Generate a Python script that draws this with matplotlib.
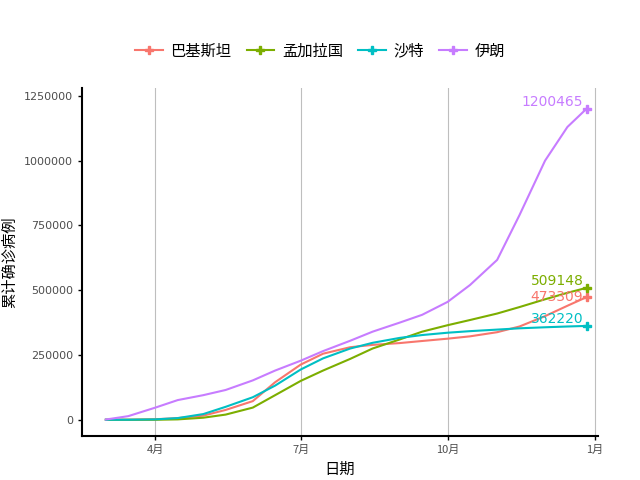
import matplotlib
matplotlib.use("Agg")
import matplotlib.pyplot as plt
from matplotlib import font_manager as fm
import datetime as dt

cjk = [f.name for f in fm.fontManager.ttflist if "CJK" in f.name]
fam = "Noto Sans CJK SC" if "Noto Sans CJK SC" in cjk else (cjk[0] if cjk else "DejaVu Sans")
plt.rcParams['font.family'] = [fam, "DejaVu Sans"]

countries = ["巴基斯坦", "孟加拉国", "沙特", "伊朗"]
colors = ["#F8766D", "#7CAE00", "#00BFC4", "#C77CFF"]

dates_str = ["2020-03-01", "2020-03-15", "2020-04-01", "2020-04-15", "2020-05-01", "2020-05-15",
             "2020-06-01", "2020-06-15", "2020-07-01", "2020-07-15", "2020-08-01", "2020-08-15",
             "2020-09-01", "2020-09-15", "2020-10-01", "2020-10-15", "2020-11-01", "2020-11-15",
             "2020-12-01", "2020-12-15", "2020-12-27"]
pakistan = [0, 50, 2000, 6500, 16000, 38000, 72000, 145000, 213000, 255000, 280000, 289000,
            296000, 304000, 313000, 322000, 338000, 360000, 400000, 440000, 473309]
bangladesh = [0, 0, 50, 1500, 8000, 20000, 47000, 95000, 150000, 190000, 235000, 275000,
              310000, 340000, 365000, 385000, 410000, 435000, 465000, 490000, 509148]
saudi = [0, 100, 1500, 6500, 22000, 50000, 87000, 132000, 194000, 237000, 275000, 297000,
         316000, 327000, 336000, 342000, 348000, 353000, 357000, 360000, 362220]
iran = [1000, 14000, 47000, 76000, 95000, 115000, 152000, 190000, 228000, 265000, 305000, 340000,
        375000, 405000, 455000, 520000, 617000, 790000, 1000000, 1130000, 1200465]
series = [pakistan, bangladesh, saudi, iran]

dates = [dt.datetime.strptime(d, "%Y-%m-%d") for d in dates_str]

fig = plt.figure(figsize=(6.4, 4.8), dpi=100)
ax = fig.add_axes([0.128, 0.092, 0.806, 0.725])

handles = []
for name, col, vals in zip(countries, colors, series):
    ax.plot(dates, vals, color=col, lw=1.5)
    ax.plot(dates[-1], vals[-1], marker="P", color=col, ms=6, ls="none")
    h, = ax.plot([], [], color=col, lw=1.5, marker="P", ms=6, label=name)
    handles.append(h)
    ax.text(dates[-1] - dt.timedelta(days=2), vals[-1], str(vals[-1]), color=col,
            fontsize=10, ha="right", va="bottom" if name != "巴基斯坦" else "center",
            family="DejaVu Sans")

ax.set_xlim(dt.datetime(2020, 2, 15), dt.datetime(2021, 1, 3))
ax.set_ylim(-62000, 1281000)
ticks = [dt.datetime(2020, 4, 1), dt.datetime(2020, 7, 1), dt.datetime(2020, 10, 1), dt.datetime(2021, 1, 1)]
ax.set_xticks(ticks)
ax.set_xticklabels(["4月", "7月", "10月", "1月"], fontsize=8, color="#4d4d4d")
ax.set_yticks([0, 250000, 500000, 750000, 1000000, 1250000])
ax.set_yticklabels(["0", "250000", "500000", "750000", "1000000", "1250000"], fontsize=8,
                   color="#4d4d4d", family="DejaVu Sans")
ax.grid(axis="x", color="#bebebe", lw=0.8)
ax.set_axisbelow(True)
for s in ["top", "right"]:
    ax.spines[s].set_visible(False)
for s in ["left", "bottom"]:
    ax.spines[s].set_linewidth(1.5)
ax.tick_params(length=3, width=1)
ax.set_xlabel("日期", fontsize=11)
ax.set_ylabel("累计确诊病例", fontsize=11)
fig.legend(handles=handles, loc="upper center", bbox_to_anchor=(0.5, 0.94), ncol=4,
           frameon=False, fontsize=11, handlelength=1.8, columnspacing=1.0, handletextpad=0.5)
fig.savefig("out.png", dpi=100)
